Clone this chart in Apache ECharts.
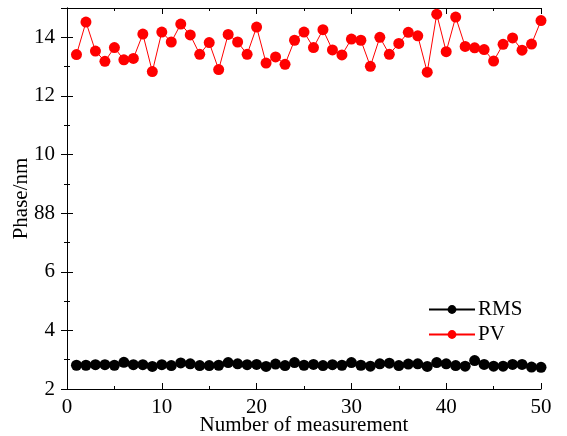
<!DOCTYPE html>
<html>
<head>
<meta charset="utf-8">
<script src="https://cdn.jsdelivr.net/npm/echarts@6/dist/echarts.min.js"></script>
<style>
  html, body { margin: 0; padding: 0; background: #fff; }
  #chart { width: 567px; height: 436px; }
</style>
</head>
<body>
<div id="chart"></div>
<script>
  // measurement index 1..50
  var measurements = [];
  for (var i = 1; i <= 50; i++) measurements.push(i);

  var rmsValues = [2.81, 2.81, 2.83, 2.83, 2.81, 2.91, 2.83, 2.83, 2.77, 2.83,
                   2.80, 2.89, 2.86, 2.80, 2.80, 2.81, 2.90, 2.86, 2.83, 2.84,
                   2.77, 2.85, 2.80, 2.90, 2.81, 2.84, 2.80, 2.83, 2.81, 2.90,
                   2.81, 2.78, 2.86, 2.88, 2.80, 2.85, 2.86, 2.77, 2.90, 2.86,
                   2.80, 2.78, 2.97, 2.84, 2.78, 2.78, 2.84, 2.84, 2.75, 2.74];

  var pvValues = [13.41, 14.52, 13.53, 13.18, 13.65, 13.23, 13.28, 14.11, 12.83, 14.18,
                  13.84, 14.45, 14.08, 13.42, 13.82, 12.90, 14.10, 13.84, 13.42, 14.35,
                  13.12, 13.33, 13.08, 13.90, 14.18, 13.65, 14.26, 13.57, 13.40, 13.94,
                  13.90, 13.01, 14.00, 13.42, 13.79, 14.17, 14.05, 12.81, 14.79, 13.51,
                  14.69, 13.69, 13.64, 13.58, 13.19, 13.76, 13.98, 13.56, 13.77, 14.57];

  // the original figure prints "88" at the 8 tick
  var yTickText = {2: '2', 4: '4', 6: '6', 8: '88', 10: '10', 12: '12', 14: '14'};

  function pairs(vals) {
    return vals.map(function (v, i) { return [measurements[i], v]; });
  }

  var font = 'Liberation Serif, Times New Roman, serif';
  var fs = 21;
  var tickStyle = { show: true, inside: true, length: 6, lineStyle: { color: '#000', width: 1 } };
  var minorStyle = { show: true, splitNumber: 2, length: 3, lineStyle: { color: '#000', width: 1 } };

  var chart = echarts.init(document.getElementById('chart'));
  chart.setOption({
    animation: false,
    textStyle: { fontFamily: font },
    grid: { left: 67, right: 26, top: 8, bottom: 47, containLabel: false, outerBoundsMode: 'none' },
    legend: {
      orient: 'vertical',
      left: 423,
      top: 294,
      itemWidth: 46,
      itemHeight: 11,
      itemGap: 4,
      textStyle: { fontFamily: font, fontSize: fs, color: '#000', padding: [0, 0, 0, -2] },
      data: ['RMS', 'PV']
    },
    xAxis: [
      {
        type: 'value', min: 0, max: 50, interval: 10,
        name: 'Number of measurement', nameLocation: 'middle', nameGap: 26,
        nameMoveOverlap: false,
        nameTextStyle: { fontFamily: font, fontSize: fs, color: '#000' },
        axisLine: { lineStyle: { color: '#000', width: 1 } },
        axisTick: tickStyle, minorTick: minorStyle,
        axisLabel: { fontFamily: font, fontSize: fs, color: '#000', margin: 8 },
        splitLine: { show: false }
      },
      {
        type: 'value', position: 'top', min: 0, max: 50, interval: 10,
        axisLine: { show: true, lineStyle: { color: '#000', width: 1 } },
        axisTick: tickStyle, minorTick: minorStyle,
        axisLabel: { show: false }, splitLine: { show: false }
      }
    ],
    yAxis: [
      {
        type: 'value', min: 2, max: 15, interval: 2,
        name: 'Phase/nm', nameLocation: 'middle', nameGap: 35,
        nameMoveOverlap: false,
        nameTextStyle: { fontFamily: font, fontSize: fs, color: '#000' },
        axisLine: { show: true, lineStyle: { color: '#000', width: 1 } },
        axisTick: tickStyle, minorTick: minorStyle,
        axisLabel: {
          fontFamily: font, fontSize: fs, color: '#000', margin: 12,
          showMaxLabel: false,
          formatter: function (v) { return yTickText[v] || ''; }
        },
        splitLine: { show: false }
      },
      {
        type: 'value', position: 'right', min: 2, max: 15, interval: 2,
        axisLine: { show: true, lineStyle: { color: '#000', width: 1 } },
        axisTick: tickStyle, minorTick: minorStyle,
        axisLabel: { show: false }, splitLine: { show: false }
      }
    ],
    series: [
      {
        name: 'RMS', type: 'line', data: pairs(rmsValues),
        symbol: 'circle', symbolSize: 11,
        itemStyle: { color: '#000' },
        lineStyle: { color: '#000', width: 1 }
      },
      {
        name: 'PV', type: 'line', data: pairs(pvValues),
        symbol: 'circle', symbolSize: 11,
        itemStyle: { color: '#ff0000' },
        lineStyle: { color: '#ff0000', width: 1 }
      }
    ]
  });
</script>
</body>
</html>
